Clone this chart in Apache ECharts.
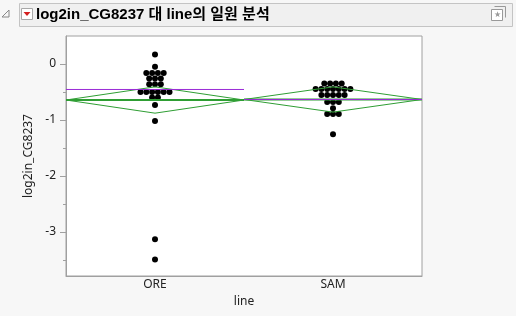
<!DOCTYPE html>
<html><head><meta charset="utf-8">
<script src="https://cdn.jsdelivr.net/npm/echarts@6/dist/echarts.min.js"></script>
<style>html,body{margin:0;padding:0;background:#f7f7f7}#c{width:516px;height:316px}</style>
</head><body><div id="c"></div>
<script>
const categories = ['ORE', 'SAM'];
const oreValues = [0.17, -0.05, -0.16, -0.16, -0.16, -0.16, -0.26, -0.26, -0.26, -0.36, -0.36, -0.36,
  -0.5, -0.5, -0.5, -0.5, -0.5, -0.5, -0.6, -0.6, -0.73, -1.02, -3.13, -3.49];
const samValues = [-0.35, -0.35, -0.35, -0.35, -0.446, -0.446, -0.446, -0.446, -0.446, -0.446, -0.446,
  -0.553, -0.553, -0.553, -0.553, -0.553, -0.68, -0.68, -0.68, -0.79, -0.893, -0.893, -0.893, -1.256];
const groupMeans = [-0.643, -0.634];
const groupCI = [0.235, 0.225];
const purpleLevels = [-0.455, -0.634];
const yTickValues = [0, -1, -2, -3];
const yMinorTickValues = [-0.5, -1.5, -2.5, -3.5];
const titleText = 'log2in_CG8237 대 line의 일원 분석';
const yName = 'log2in_CG8237';
const xName = 'line';

const GREEN = '#2f9e34', PURPLE = '#9a2bd6', AXIS = '#a0a0a0';
const SPACING = 5.8;

function swarm(values, idx) {
  const counts = {}, seen = {};
  values.forEach(v => counts[v] = (counts[v] || 0) + 1);
  return values.map(v => {
    const i = seen[v] = (seen[v] === undefined ? 0 : seen[v] + 1);
    const off = (i - (counts[v] - 1) / 2) * SPACING;
    return { value: [idx + 0.5, v], symbolOffset: [off, 0] };
  });
}

const allGroups = [oreValues, samValues];
const series = [];
series.push({
  type: 'scatter', xAxisIndex: 1, yAxisIndex: 0, symbolSize: 6, z: 2,
  itemStyle: { color: '#000', opacity: 1 },
  data: allGroups.flatMap((g, i) => swarm(g, i)), silent: true
});
groupMeans.forEach((m, i) => {
  const c = groupCI[i];
  series.push({
    type: 'line', xAxisIndex: 1, yAxisIndex: 0, symbol: 'none', z: 3, silent: true,
    lineStyle: { color: GREEN, width: 1 },
    data: [[i, m], [i + 0.5, m + c], [i + 1, m], [i + 0.5, m - c], [i, m]]
  });
  series.push({
    type: 'line', xAxisIndex: 1, yAxisIndex: 0, symbol: 'none', z: 3, silent: true,
    lineStyle: { color: GREEN, width: 2 },
    data: [[i, m], [i + 1, m]]
  });
});
purpleLevels.forEach((p, i) => {
  series.push({
    type: 'line', xAxisIndex: 1, yAxisIndex: 0, symbol: 'none', z: 4, silent: true,
    lineStyle: { color: PURPLE, width: 1 },
    data: [[i, p], [i + 1, p]]
  });
});

const chart = echarts.init(document.getElementById('c'), null, { renderer: 'canvas' });
const font = 'Noto Sans, DejaVu Sans, sans-serif';
chart.setOption({
  animation: false,
  backgroundColor: '#f7f7f7',
  textStyle: { fontFamily: font },
  grid: { left: 66, right: 94, top: 36, bottom: 40, show: true, backgroundColor: '#fff', borderColor: AXIS, borderWidth: 1 },
  xAxis: [{
    type: 'category', data: categories, boundaryGap: true,
    axisLine: { onZero: false, lineStyle: { color: AXIS } },
    axisTick: { length: 6, lineStyle: { color: AXIS } },
    axisLabel: { color: '#222', fontSize: 12, margin: 3, fontFamily: font },
    name: xName, nameLocation: 'middle', nameGap: 20,
    nameTextStyle: { color: '#222', fontSize: 12, fontFamily: font }
  }, {
    type: 'value', min: 0, max: 2, show: false, axisLine: { onZero: false, show: false }
  }],
  yAxis: [{
    type: 'value', min: -3.786, max: 0.5,
    axisLine: { show: true, onZero: false, lineStyle: { color: AXIS } },
    axisTick: { show: true, length: 6, customValues: yTickValues, lineStyle: { color: AXIS } },
    axisLabel: { customValues: yTickValues, color: '#222', fontSize: 12, margin: 10, fontFamily: font },
    splitLine: { show: false },
    name: yName, nameLocation: 'middle', nameGap: 28, nameRotate: 90,
    nameTextStyle: { color: '#222', fontSize: 12, fontFamily: font }
  }, {
    type: 'value', min: -3.786, max: 0.5, position: 'left', offset: 0,
    axisLine: { show: false, onZero: false },
    axisTick: { show: true, length: 3, customValues: yMinorTickValues, lineStyle: { color: AXIS } },
    axisLabel: { show: false }, splitLine: { show: false }
  }],
  graphic: [
    { type: 'rect', shape: { x: 19.5, y: 3.5, width: 493, height: 23 }, style: { fill: '#f0f0f0', stroke: '#c4c4c4', lineWidth: 1 } },
    { type: 'polygon', shape: { points: [[9, 10], [9, 17], [2, 17]] }, style: { fill: 'none', stroke: '#888', lineWidth: 1 } },
    { type: 'rect', shape: { x: 21.5, y: 8.5, width: 11, height: 11 }, style: { fill: '#fff', stroke: '#a8a8a8', lineWidth: 1 } },
    { type: 'polygon', shape: { points: [[23.5, 12], [30.5, 12], [27, 16]] }, style: { fill: '#d42020' } },
    { type: 'text', x: 36, y: 15, style: { text: titleText, fontSize: 15, fontWeight: 'bold', fontFamily: 'Liberation Sans, Noto Sans CJK KR, sans-serif', fill: '#000', verticalAlign: 'middle' } },
    { type: 'rect', shape: { x: 491.5, y: 9.5, width: 11, height: 11 }, style: { fill: '#fff', stroke: '#999', lineWidth: 1 } },
    { type: 'polyline', shape: { points: [[494.5, 6.5], [505.5, 6.5], [505.5, 17.5]] }, style: { fill: 'none', stroke: '#999', lineWidth: 1 } },
    { type: 'text', x: 497, y: 15, style: { text: '★', fontSize: 8, fill: '#999', align: 'center', verticalAlign: 'middle' } }
  ],
  series: series
});
</script></body></html>
